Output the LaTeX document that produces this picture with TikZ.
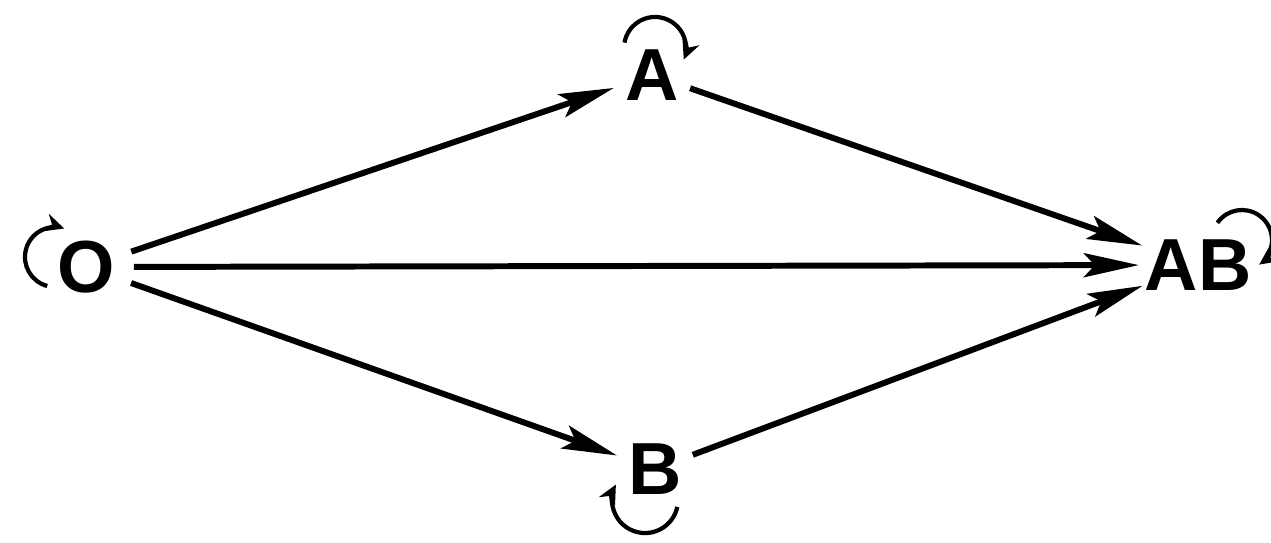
\documentclass[tikz,border=0pt]{standalone}
\usepackage{fontspec}
\setmainfont{Liberation Sans}
\usetikzlibrary{arrows.meta}
\begin{document}
\begin{tikzpicture}[x=0.02cm,y=0.02cm,
  state/.style={circle,inner sep=0pt,font=\fontsize{42}{42}\selectfont\bfseries},
  link/.style={line width=3.4pt,-{Stealth[length=1.1cm,width=0.48cm,inset=0.22cm]}},
  selfloop/.style={line width=2.4pt,-{Stealth[length=0.38cm,width=0.36cm]}}]
\useasboundingbox (0,0) rectangle (1271,-543);
% states
\node[state,minimum size=1.9cm] (O)  at (86,-267)   {O};
\node[state,minimum size=1.6cm] (A)  at (652,-75)   {A};
\node[state,minimum size=1.6cm] (B)  at (655,-469)  {B};
\node[state,minimum size=2.35cm] (AB) at (1198,-265) {AB};
% transitions
\draw[link] (O) -- (A);
\draw[link] (O) -- (B);
\draw[link] (O) -- (AB);
\draw[link] (A) -- (AB);
\draw[link] (B) -- (AB);
% self-loops
\draw[selfloop] ([shift={(-38.8,-19)}]O.center) arc[start angle=255,end angle=72,radius=0.6cm];
\draw[selfloop] ([shift={(-27.5,32.4)}]A.center) arc[start angle=170,end angle=-22,radius=0.62cm];
\draw[selfloop] ([shift={(22.3,-37.9)}]B.center) arc[start angle=-12,end angle=-208,radius=0.66cm];
\draw[selfloop] ([shift={(19.4,42.2)}]AB.center) arc[start angle=145,end angle=-55,radius=0.6cm];
\end{tikzpicture}
\end{document}
